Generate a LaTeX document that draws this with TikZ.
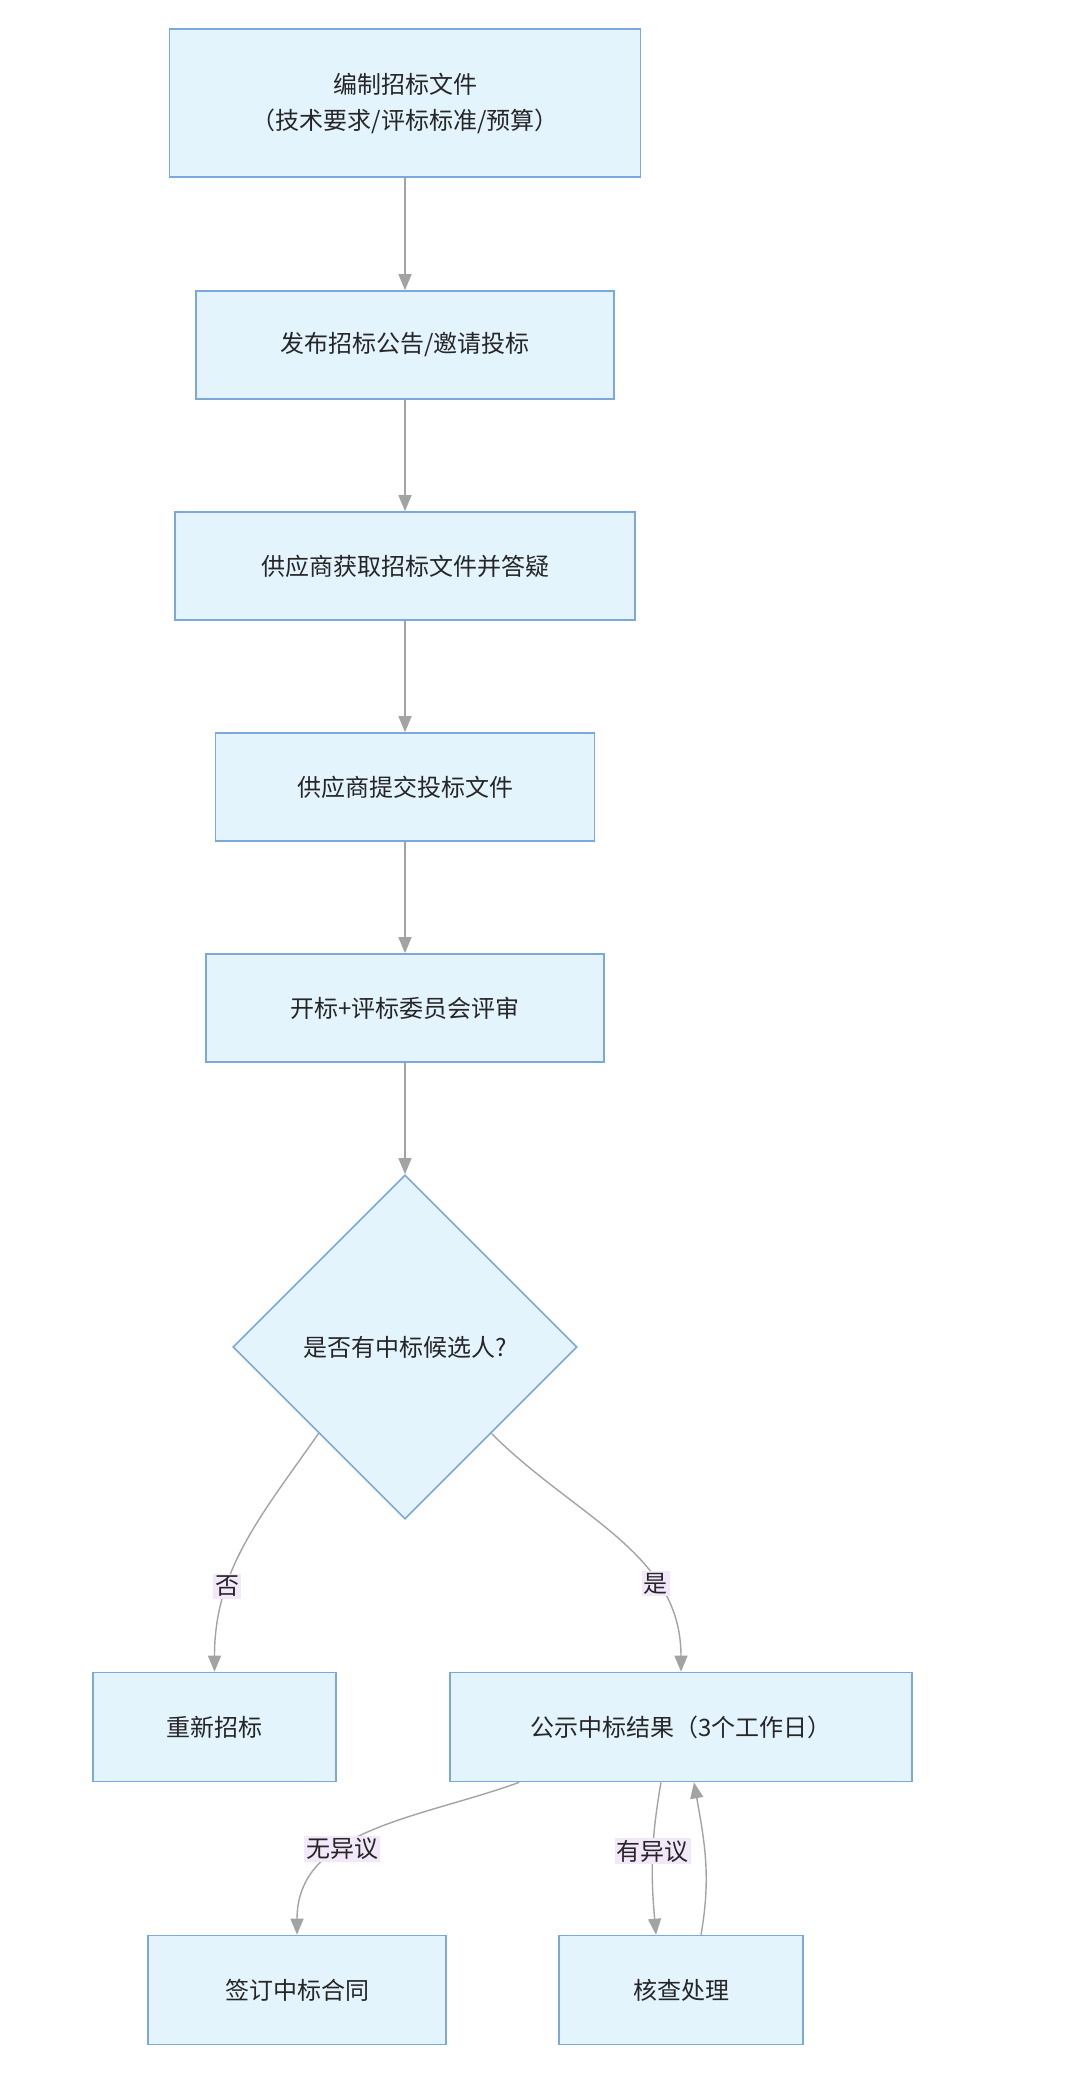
\documentclass[tikz,border=0pt]{standalone}
\usepackage{fontspec}
\setmainfont{Noto Sans CJK SC}
\usetikzlibrary{arrows.meta, shapes.geometric, positioning}
\definecolor{boxfill}{HTML}{E3F4FD}
\definecolor{boxline}{HTML}{7BA8DD}
\definecolor{edgegray}{HTML}{A3A3A3}
\definecolor{lblfill}{HTML}{F3E8FA}
\tikzset{
    stage/.style={draw=boxline, fill=boxfill, line width=1.6pt, align=center,
      font=\fontsize{24}{36}\selectfont, text=black!85, inner sep=0pt},
    choice/.style={diamond, draw=boxline, fill=boxfill, line width=1.6pt,
      font=\fontsize{24}{30}\selectfont, text=black!85, minimum width=344pt, minimum height=344pt, inner sep=0pt},
    lbl/.style={fill=lblfill, font=\fontsize{24}{28}\selectfont, text=black!85, inner sep=2pt},
    flow/.style={draw=edgegray, line width=1.4pt, -{Triangle[length=16pt, width=13pt, fill=edgegray]}},
}
\begin{document}
\begin{tikzpicture}[x=1pt, y=-1pt]
    \useasboundingbox (0,0) rectangle (1080,2084);

    \node[stage, minimum width=471pt, minimum height=148pt] (spec) at (405,103) {编制招标文件\\（技术要求/评标标准/预算）};
    \node[stage, minimum width=418pt, minimum height=108pt] (notice) at (405,345) {发布招标公告/邀请投标};
    \node[stage, minimum width=460pt, minimum height=108pt] (query) at (405,566) {供应商获取招标文件并答疑};
    \node[stage, minimum width=379pt, minimum height=108pt] (submit) at (405,787) {供应商提交投标文件};
    \node[stage, minimum width=398pt, minimum height=108pt] (review) at (405,1008) {开标+评标委员会评审};
    \node[choice] (win) at (405,1347) {是否有中标候选人?};

    \node[stage, minimum width=243pt, minimum height=109pt] (retry) at (214.5,1727) {重新招标};
    \node[stage, minimum width=462pt, minimum height=109pt] (publish) at (681,1727) {公示中标结果（3个工作日）};
    \node[stage, minimum width=298pt, minimum height=109pt] (sign) at (297,1990) {签订中标合同};
    \node[stage, minimum width=244pt, minimum height=109pt] (check) at (681,1990) {核查处理};

    \draw[flow] (spec) -- (notice);
    \draw[flow] (notice) -- (query);
    \draw[flow] (query) -- (submit);
    \draw[flow] (submit) -- (review);
    \draw[flow] (review) -- (win);

    \draw[flow] (win.south west) to[out=-125, in=90] node[lbl, pos=0.68] {否} (retry.north);
    \draw[flow] (win.south east) to[out=-45, in=90] node[lbl, pos=0.7] {是} (publish.north);

    \coordinate (pubL) at ([xshift=70pt]publish.south west);
    \draw[flow] (pubL) to[out=200, in=90] node[lbl, pos=0.62] {无异议} (sign.north);
    \draw[flow] ([xshift=-20pt]publish.south) to[out=-100, in=95] node[lbl, pos=0.45] {有异议} ([xshift=-25pt]check.north);
    \draw[flow] ([xshift=20pt]check.north) to[out=80, in=-80] ([xshift=13pt]publish.south);
\end{tikzpicture}
\end{document}
